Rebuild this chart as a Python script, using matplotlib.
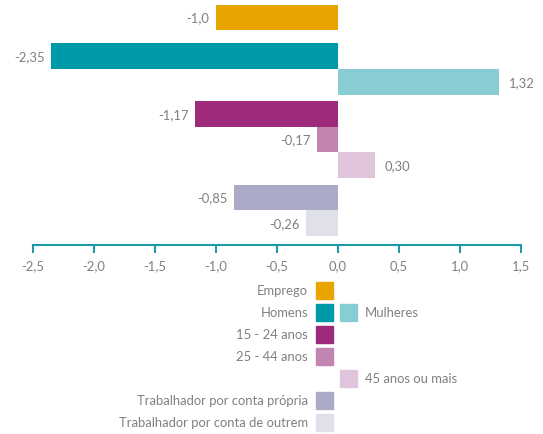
import matplotlib
matplotlib.use("Agg")
import matplotlib.pyplot as plt
from matplotlib.patches import Rectangle

plt.rcParams['font.family'] = ['Lato', 'DejaVu Sans']

categories = ["Emprego", "Homens", "Mulheres", "15 - 24 anos", "25 - 44 anos",
              "45 anos ou mais", "Trabalhador por conta própria",
              "Trabalhador por conta de outrem"]
values = [-1.0, -2.35, 1.32, -1.17, -0.17, 0.30, -0.85, -0.26]
value_labels = ["-1,0", "-2,35", "1,32", "-1,17", "-0,17", "0,30", "-0,85", "-0,26"]
colors = ["#E8A500", "#0099A8", "#88CDD4", "#9E2A7B", "#C285B0",
          "#DFC4DC", "#ABABC8", "#E0E0EB"]
xticks = [-2.5, -2.0, -1.5, -1.0, -0.5, 0.0, 0.5, 1.0, 1.5]
xtick_labels = ["-2,5", "-2,0", "-1,5", "-1,0", "-0,5", "0,0", "0,5", "1,0", "1,5"]

# layout
ypos = [0, 1.5, 2.5, 3.75, 4.75, 5.75, 7.0, 8.0]
W, H = 543, 435
fig = plt.figure(figsize=(W / 100, H / 100), dpi=100)
ax_left, ax_right = 33, 521
ax_top, ax_bot = 0, 246
ax = fig.add_axes([ax_left / W, 1 - ax_bot / H, (ax_right - ax_left) / W, (ax_bot - ax_top) / H])
ax.barh(ypos, values, height=1.0, color=colors)
ax.set_xlim(-2.5, 1.5)
ax.set_ylim(8.85, -0.72)
grey = "#808080"
fs = 9.4
for y, v, lab in zip(ypos, values, value_labels):
    if v < 0:
        ax.annotate(lab, (v, y), xytext=(-5, 0), textcoords="offset points",
                    ha="right", va="center", color=grey, fontsize=fs)
    else:
        ax.annotate(lab, (v, y), xytext=(7, 0), textcoords="offset points",
                    ha="left", va="center", color=grey, fontsize=fs)

teal = "#1E9AA8"
for s in ["top", "left", "right"]:
    ax.spines[s].set_visible(False)
ax.spines["bottom"].set_color(teal)
ax.spines["bottom"].set_linewidth(1.5)
ax.set_yticks([])
ax.set_xticks(xticks)
ax.set_xticklabels(xtick_labels, color=grey, fontsize=fs)
ax.tick_params(axis="x", colors=teal, labelcolor=grey, length=6, width=1.5, pad=4)

# legend
lax = fig.add_axes([0, 0, 1, 1])
lax.set_xlim(0, W)
lax.set_ylim(H, 0)
lax.axis("off")
left_rows = [(0, 0), (1, 1), (3, 2), (4, 3), (6, 5), (7, 6)]  # (category index, row)
right_rows = [(2, 1), (5, 4)]
row_y0 = 283
row_dy = 22
sq = 17
for ci, r in left_rows:
    yc = row_y0 + r * row_dy + sq / 2
    lax.add_patch(Rectangle((316, row_y0 + r * row_dy), sq, sq, color=colors[ci]))
    lax.text(308, yc, categories[ci], ha="right", va="center", color=grey, fontsize=fs)
for ci, r in right_rows:
    yc = row_y0 + r * row_dy + sq / 2
    lax.add_patch(Rectangle((340, row_y0 + r * row_dy), sq, sq, color=colors[ci]))
    lax.text(365, yc, categories[ci], ha="left", va="center", color=grey, fontsize=fs)

fig.savefig("out.png", dpi=100)
